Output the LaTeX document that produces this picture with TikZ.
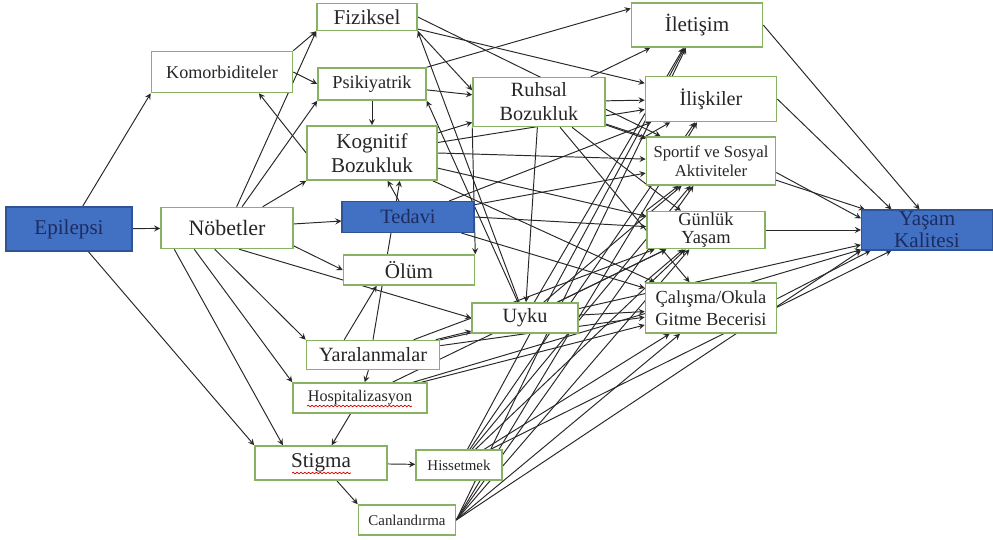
\documentclass[tikz,border=0pt]{standalone}
\usepackage{fontspec}
\setmainfont{Liberation Serif}
\usetikzlibrary{backgrounds,calc,decorations.pathmorphing}

\definecolor{boxgreen}{RGB}{135,178,98}
\definecolor{boxblue}{RGB}{66,113,196}
\definecolor{blueedge}{RGB}{47,84,150}
\definecolor{bluetext}{RGB}{28,44,95}
\definecolor{linkgray}{RGB}{40,40,40}

\begin{document}
\begin{tikzpicture}[x=0.02cm,y=-0.02cm,
	box/.style={draw=boxgreen, line width=0.9pt, fill=white, inner sep=0pt, align=center, text=black!85},
	bluebox/.style={draw=blueedge, line width=0.6pt, fill=boxblue, inner sep=0pt, align=center, text=bluetext},
	link/.style={-stealth, draw=linkgray, line width=0.55pt},
	wavy/.style={draw=red!85!black, line width=0.4pt, decorate, decoration={snake, amplitude=0.45pt, segment length=2.2pt}},
]
\useasboundingbox (0,0) rectangle (993,540);

%Epilepsi and seizures
\node [bluebox, minimum width=2.52cm, minimum height=0.88cm, font=\fontsize{12}{13}\selectfont] (epilepsi) at (69,229) {Epilepsi};
\node [box, minimum width=2.64cm, minimum height=0.82cm, font=\fontsize{12.5}{14}\selectfont] (nobet) at (227,228) {Nöbetler};
\node [box, minimum width=2.82cm, minimum height=0.82cm, font=\fontsize{10.3}{12}\selectfont] (komorb) at (222,72) {Komorbiditeler};

%Comorbidities
\node [box, minimum width=2.0cm, minimum height=0.54cm, font=\fontsize{12}{13}\selectfont] (fiziksel) at (367,17) {Fiziksel};
\node [box, minimum width=2.16cm, minimum height=0.64cm, font=\fontsize{10.4}{12}\selectfont] (psikiyatrik) at (372,84) {Psikiyatrik};
\node [box, minimum width=2.6cm, minimum height=1.08cm, font=\fontsize{12}{13.6}\selectfont] (kognitif) at (372,153) {Kognitif\\Bozukluk};
\node [bluebox, minimum width=2.64cm, minimum height=0.62cm, font=\fontsize{11.6}{13}\selectfont] (tedavi) at (408,217) {Tedavi};
\node [box, minimum width=2.62cm, minimum height=0.6cm, font=\fontsize{12}{13}\selectfont] (olum) at (409,270) {Ölüm};
\node [box, minimum width=2.64cm, minimum height=0.98cm, font=\fontsize{11.5}{13.6}\selectfont] (ruhsal) at (539,102) {Ruhsal\\Bozukluk};
\node [box, minimum width=2.12cm, minimum height=0.6cm, font=\fontsize{11.5}{13}\selectfont] (uyku) at (525,318) {Uyku};
\node [box, minimum width=2.66cm, minimum height=0.58cm, font=\fontsize{11.5}{13}\selectfont] (yaralan) at (373,355) {Yaralanmalar};
\node [box, minimum width=2.68cm, minimum height=0.6cm, font=\fontsize{9.2}{11}\selectfont] (hospital) at (360,398) {Hospitalizasyon};

%Stigma
\node [box, minimum width=2.64cm, minimum height=0.68cm, font=\fontsize{12}{13}\selectfont] (stigma) at (321,463) {Stigma};
\node [box, minimum width=1.72cm, minimum height=0.6cm, font=\fontsize{8.5}{10}\selectfont] (hisset) at (459,465) {Hissetmek};
\node [box, minimum width=1.94cm, minimum height=0.6cm, font=\fontsize{8.5}{10}\selectfont] (canland) at (407,520) {Canlandırma};

%Daily life
\node [box, minimum width=2.62cm, minimum height=0.88cm, font=\fontsize{12}{13}\selectfont] (iletisim) at (697,25) {İletişim};
\node [box, minimum width=2.62cm, minimum height=0.9cm, font=\fontsize{11.5}{13}\selectfont] (iliski) at (711,99) {İlişkiler};
\node [box, minimum width=2.58cm, minimum height=0.96cm, font=\fontsize{9.5}{10.5}\selectfont] (sportif) at (711,161) {Sportif ve Sosyal\\Aktiviteler};
\node [box, minimum width=2.36cm, minimum height=0.74cm, font=\fontsize{10.5}{10.5}\selectfont] (gunluk) at (706,230) {Günlük\\Yaşam};
\node [box, minimum width=2.62cm, minimum height=1.0cm, font=\fontsize{10.5}{12.5}\selectfont] (calisma) at (711,308) {Çalışma/Okula\\Gitme Becerisi};

%Output
\node [bluebox, minimum width=2.62cm, minimum height=0.8cm, font=\fontsize{12}{12.5}\selectfont] (yasam) at (927,230) {Yaşam\\Kalitesi};

%spell check marks
\draw[wavy] ($(hospital.center)+(-53,8)$) -- ($(hospital.center)+(52,8)$);
\draw[wavy] ($(stigma.center)+(-29,10)$) -- ($(stigma.center)+(30,10)$);

\begin{scope}[on background layer]
%Epilepsi
\draw[link] (epilepsi) -- (nobet);
\draw[link] (epilepsi) -- (komorb.south west);
\draw[link] (epilepsi) -- (stigma.north west);

%Nobetler
\draw[link] (nobet) -- (fiziksel.south west);
\draw[link] (nobet) -- (psikiyatrik.south west);
\draw[link] (nobet) -- (kognitif.south west);
\draw[link] (nobet) -- (tedavi);
\draw[link] (nobet.-15) -- (olum.west);
\draw[link] (nobet.-60) -- (uyku.west);
\draw[link] (nobet.-120) -- (yaralan.north west);
\draw[link] (nobet.-147) -- (hospital.north west);
\draw[link] (nobet.-158) -- (stigma.155);

%Komorbiditeler
\draw[link] (komorb.north east) -- (fiziksel.south west);
\draw[link] (komorb.east) -- (psikiyatrik.west);
\draw[link] (kognitif.west) -- (komorb.-30);

%Psikiyatrik, Fiziksel
\draw[link] (psikiyatrik) -- (kognitif);
\draw[link] (psikiyatrik) -- (ruhsal);
\draw[link] (psikiyatrik.north east) -- (iletisim.166);
\draw[link] (fiziksel.south east) -- (ruhsal.170);
\draw[link] (fiziksel.east) -- (sportif);
\draw[link] (fiziksel) -- (iliski);

%Uyku
\draw[link] (uyku) -- (fiziksel.south east);
\draw[link] (uyku) -- (psikiyatrik.south east);
\draw[link] (uyku) -- (iletisim);
\draw[link] (uyku) -- (sportif);
\draw[link] (uyku) -- (gunluk);
\draw[link] (uyku) -- (calisma);

%Tedavi
\draw[link] (tedavi) -- (kognitif);
\draw[link] (tedavi.east) -- (gunluk);
\draw[link] (tedavi) -- (sportif);
\draw[link] (tedavi) -- (calisma);
\draw[link] (tedavi) -- (iliski);

%Kognitif
\draw[link] (kognitif) -- (ruhsal);
\draw[link] (kognitif) -- (iliski);
\draw[link] (kognitif.east) -- (sportif);
\draw[link] (kognitif) -- (gunluk);
\draw[link] (kognitif) -- (calisma);

%Ruhsal
\draw[link] (ruhsal) -- (iletisim);
\draw[link] (ruhsal) -- (iliski);
\draw[link] (ruhsal) -- (sportif);
\draw[link] (ruhsal) -- (gunluk);
\draw[link] (ruhsal) -- (calisma);
\draw[link] (ruhsal) -- (uyku);
\draw[link] (ruhsal.south west) -- (olum.north east);
\draw[link] (ruhsal) -- (yasam);

%Yaralanmalar
\draw[link] (yaralan.152) -- (olum.-154);
\draw[link] (yaralan.north) -- (kognitif.-45);
\draw[link] (yaralan) -- (hospital);
\draw[link] (yaralan) -- (uyku);
\draw[link] (yaralan) -- (gunluk);
\draw[link] (yaralan) -- (calisma);
\draw[link] (yaralan) -- (yasam);

%Hospitalizasyon
\draw[link] (hospital) -- (stigma);
\draw[link] (hospital) -- (gunluk);
\draw[link] (hospital) -- (calisma);
\draw[link] (hospital) -- (yasam);

%Stigma
\draw[link] (stigma) -- (hisset);
\draw[link] (stigma) -- (canland.north west);

%Hissetmek
\draw[link] (hisset) -- (iletisim);
\draw[link] (hisset) -- (iliski);
\draw[link] (hisset) -- (sportif);
\draw[link] (hisset) -- (gunluk);
\draw[link] (hisset) -- (calisma);
\draw[link] (hisset) -- (yasam.-150);

%Canlandirma
\draw[link] (canland.east) -- (iletisim);
\draw[link] (canland.east) -- (iliski);
\draw[link] (canland.east) -- (sportif);
\draw[link] (canland.east) -- (gunluk);
\draw[link] (canland.east) -- (calisma);
\draw[link] (canland.east) -- (yasam.south west);

%Daily life
\draw[link] (gunluk.north west) -- (sportif);
\draw[link] (calisma.north west) -- (gunluk);
\draw[link] (sportif.north west) -- (iliski);
\draw[link] (iletisim.east) -- (yasam.110);
\draw[link] (iliski.east) -- (yasam.150);
\draw[link] (sportif.-10) -- (yasam.170);
\draw[link] (gunluk) -- (yasam);
\draw[link] (calisma.8) -- (yasam.-160);
\end{scope}

\end{tikzpicture}
\end{document}
